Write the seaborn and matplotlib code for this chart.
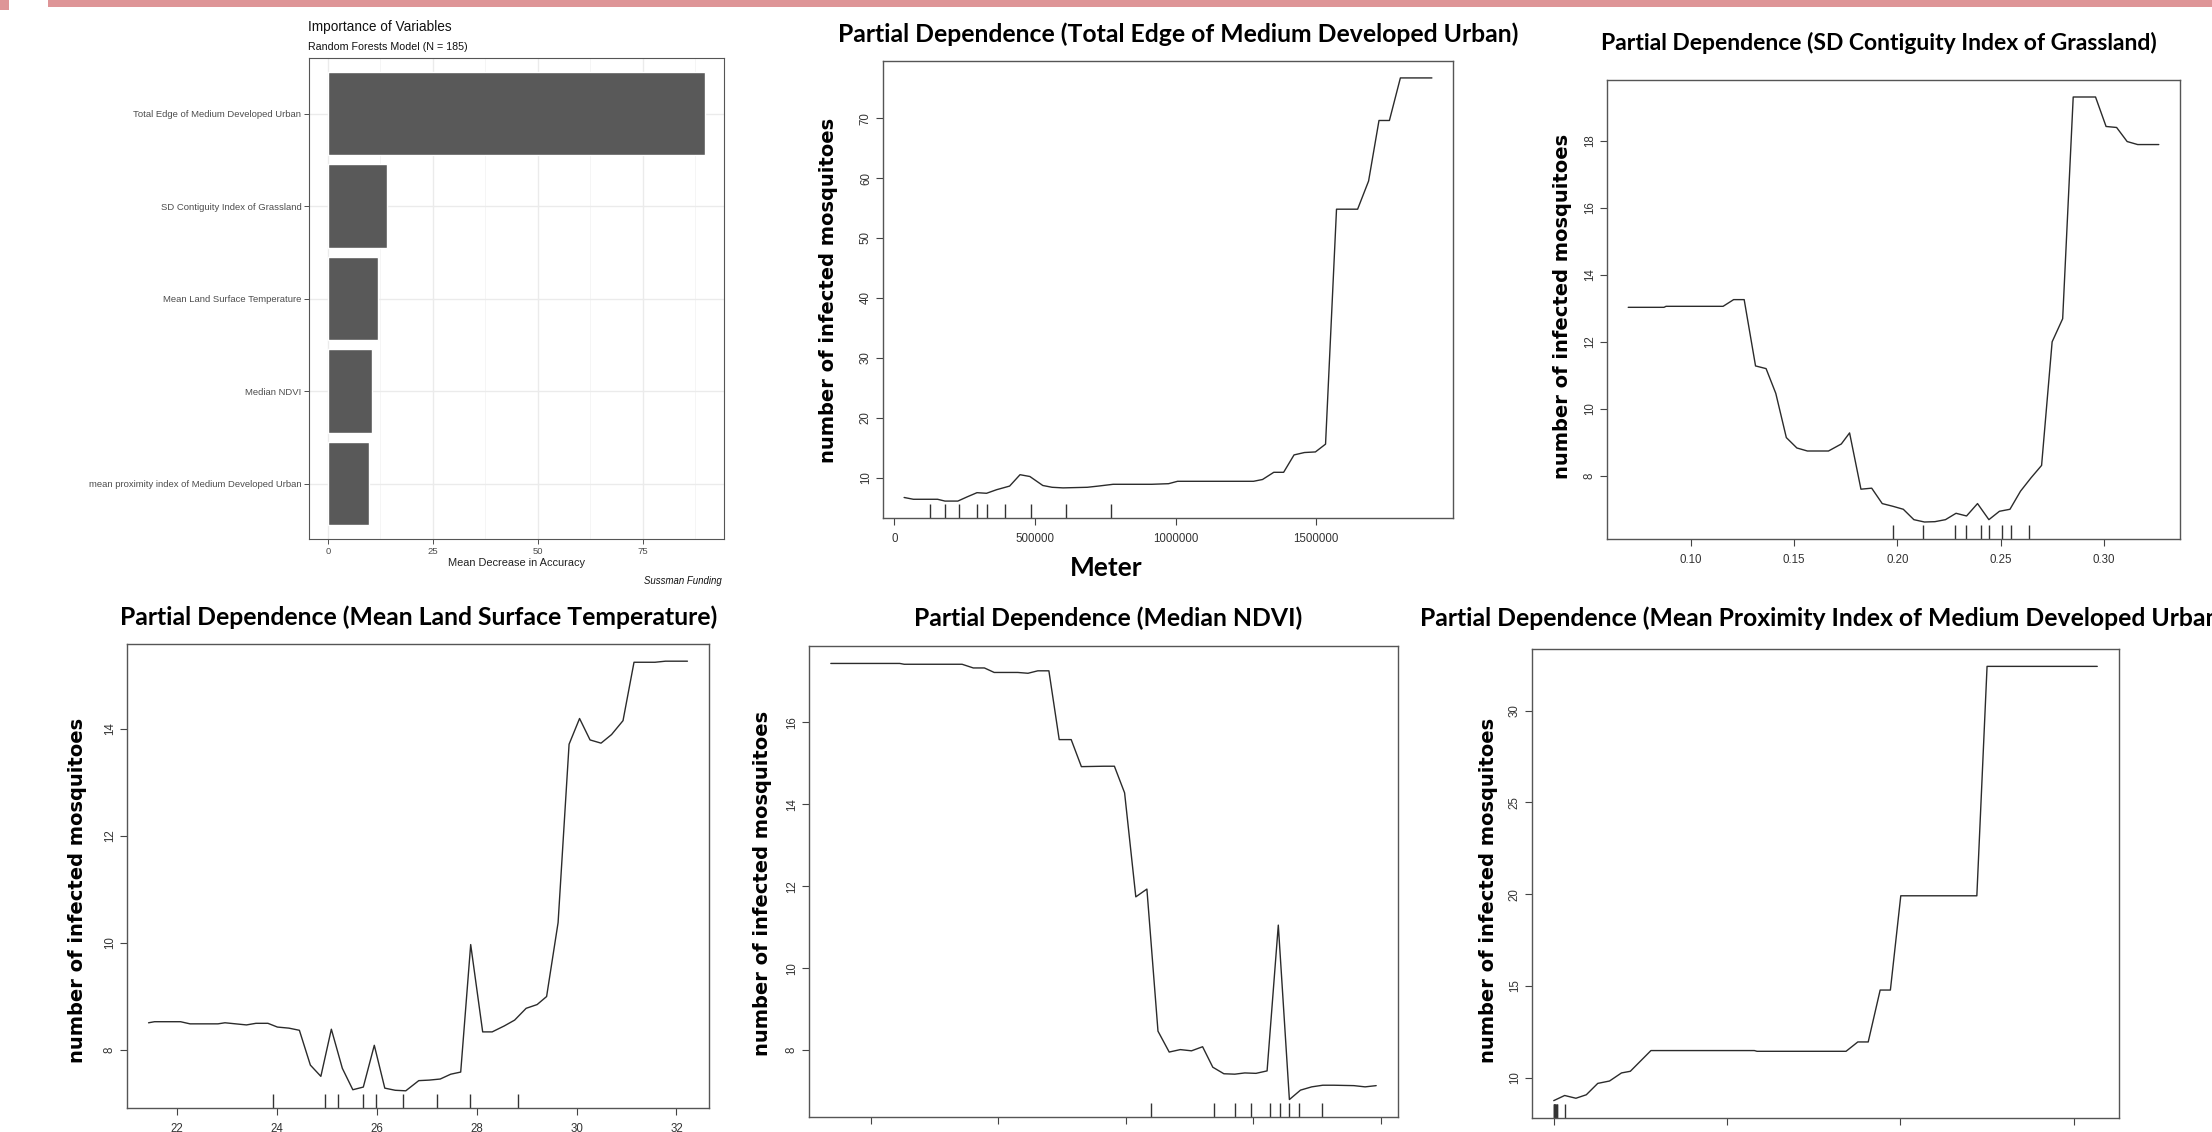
import numpy as np
import pandas as pd
import seaborn as sns
import matplotlib.pyplot as plt
from matplotlib.patches import Rectangle

# ---- variable importance (random forest) ----
imp_vars = ['Total Edge of Medium Developed Urban',
            'SD Contiguity Index of Grassland',
            'Mean Land Surface Temperature',
            'Median NDVI',
            'mean proximity index of Medium Developed Urban']
imp_vals = [89.9, 14.1, 12.0, 10.5, 9.7]

# ---- partial dependence: total edge of medium developed urban ----
edge_x = [35000, 68000, 154000, 180000, 226000, 259000, 294000, 328000, 364000, 410000,
          447000, 482000, 528000, 561000, 600000, 686000, 725000, 778000, 915000, 975000,
          1007000, 1277000, 1309000, 1349000, 1384000, 1421000, 1458000, 1497000, 1533000,
          1572000, 1647000, 1686000, 1723000, 1760000, 1799000, 1911000]
edge_y = [6.7, 6.4, 6.4, 6.1, 6.1, 6.8, 7.5, 7.4, 8.0, 8.6, 10.5, 10.2, 8.7, 8.4, 8.3,
          8.4, 8.6, 8.9, 8.9, 9.0, 9.4, 9.4, 9.7, 10.9, 10.9, 13.8, 14.2, 14.3, 15.6,
          54.8, 54.8, 59.5, 69.6, 69.6, 76.7, 76.7]
edge_rug = [127000, 180000, 230000, 294000, 328000, 394000, 485000, 609000, 771000]

# ---- partial dependence: SD contiguity index of grassland ----
grass_x = [0.0698, 0.0871, 0.0881, 0.1157, 0.1208, 0.1259, 0.1314, 0.1365, 0.1412, 0.1463,
           0.1514, 0.1565, 0.1667, 0.1729, 0.1769, 0.1824, 0.1876, 0.1927, 0.1978, 0.2029,
           0.2080, 0.2131, 0.2182, 0.2233, 0.2284, 0.2335, 0.2388, 0.2443, 0.2494, 0.2545,
           0.2596, 0.2647, 0.2698, 0.2749, 0.2800, 0.2851, 0.2959, 0.3010, 0.3061, 0.3112,
           0.3163, 0.3265]
grass_y = [13.03, 13.03, 13.06, 13.06, 13.26, 13.26, 11.28, 11.2, 10.46, 9.14, 8.83, 8.74,
           8.74, 8.95, 9.28, 7.6, 7.63, 7.17, 7.09, 7.0, 6.69, 6.62, 6.63, 6.69, 6.88, 6.8,
           7.17, 6.69, 6.94, 7.0, 7.54, 7.94, 8.31, 12.0, 12.69, 19.31, 19.31, 18.43, 18.4,
           17.98, 17.89, 17.89]
grass_rug = [0.1978, 0.2124, 0.2279, 0.2334, 0.2404, 0.2443, 0.2506, 0.2549, 0.2637]

# ---- partial dependence: mean land surface temperature ----
lst_x = [21.43, 21.55, 22.07, 22.26, 22.82, 22.96, 23.39, 23.58, 23.82, 24.01, 24.24, 24.45,
         24.67, 24.88, 25.09, 25.31, 25.52, 25.73, 25.95, 26.16, 26.37, 26.58, 26.84, 27.05,
         27.27, 27.48, 27.68, 27.88, 28.12, 28.31, 28.55, 28.76, 28.99, 29.21, 29.40, 29.63,
         29.85, 30.06, 30.27, 30.49, 30.70, 30.93, 31.15, 31.57, 31.78, 32.22]
lst_y = [8.51, 8.53, 8.53, 8.49, 8.49, 8.51, 8.47, 8.5, 8.5, 8.43, 8.41, 8.37, 7.72, 7.51,
         8.39, 7.66, 7.26, 7.31, 8.09, 7.29, 7.25, 7.24, 7.43, 7.44, 7.46, 7.55, 7.59, 9.97,
         8.34, 8.34, 8.45, 8.56, 8.78, 8.85, 9.0, 10.38, 13.71, 14.19, 13.79, 13.73, 13.89,
         14.15, 15.24, 15.24, 15.26, 15.26]
lst_rug = [23.93, 24.97, 25.22, 25.73, 25.99, 26.53, 27.20, 27.86, 28.83]

# ---- partial dependence: median NDVI ----
ndvi_x = [0.1686, 0.2227, 0.2262, 0.2716, 0.2804, 0.2891, 0.2968, 0.3153, 0.3233, 0.3310,
          0.3397, 0.3478, 0.3572, 0.3652, 0.3827, 0.3911, 0.3991, 0.4079, 0.4166, 0.4253,
          0.4341, 0.4428, 0.4516, 0.4603, 0.4683, 0.4770, 0.4856, 0.4934, 0.5022, 0.5109,
          0.5197, 0.5284, 0.5371, 0.5459, 0.5546, 0.5633, 0.5790, 0.5878, 0.5965]
ndvi_y = [17.44, 17.44, 17.42, 17.42, 17.33, 17.33, 17.22, 17.22, 17.2, 17.26, 17.26, 15.58,
          15.58, 14.92, 14.93, 14.93, 14.28, 11.74, 11.93, 8.46, 7.95, 8.01, 7.98, 8.08, 7.58,
          7.42, 7.41, 7.44, 7.43, 7.49, 11.05, 6.79, 7.02, 7.1, 7.14, 7.14, 7.13, 7.1, 7.13]
ndvi_rug = [0.4202, 0.4691, 0.4859, 0.4980, 0.5129, 0.5209, 0.5284, 0.5362, 0.5540]

# ---- partial dependence: mean proximity index of medium developed urban ----
prox_x = [0, 63, 128, 188, 254, 322, 391, 442, 561, 1158, 1173, 1687, 1755, 1815, 1884,
          1943, 2003, 2442, 2501, 3137]
prox_y = [8.74, 9.02, 8.87, 9.06, 9.68, 9.81, 10.25, 10.34, 11.47, 11.47, 11.43, 11.43,
          11.94, 11.94, 14.77, 14.77, 19.91, 19.91, 32.42, 32.42]
prox_rug = [0, 0, 4, 8, 8, 12, 16, 16, 63]

W, H = 2212, 1132

sns.set_theme(style='white')
plt.rcParams['font.family'] = ['Liberation Sans', 'DejaVu Sans']
TITLE_FONT = 'Lato'
YLAB_FONT = 'DejaVu Sans'

fig = plt.figure(figsize=(W / 100, H / 100), dpi=100)
fig.patch.set_facecolor('white')


def add_ax(x0, y0, x1, y1):
    return fig.add_axes([x0 / W, 1 - y1 / H, (x1 - x0) / W, (y1 - y0) / H])


def ftext(x, y, s, **kw):
    fig.text(x / W, 1 - y / H, s, **kw)


# slide header bar
fig.add_artist(Rectangle((48 / W, 1 - 7 / H), (W - 48) / W, 7 / H,
                         transform=fig.transFigure, color='#de9597', lw=0))
fig.add_artist(Rectangle((0, 1 - 10 / H), 9 / W, 10 / H,
                         transform=fig.transFigure, color='#de9597', lw=0))

# ---- importance panel (ggplot look) ----
ax1 = add_ax(309, 58, 724, 539)
df_imp = pd.DataFrame({'variable': imp_vars, 'importance': imp_vals})
sns.barplot(data=df_imp, y='variable', x='importance', orient='h', color='#595959',
            saturation=1, width=0.9, ax=ax1)
mx = max(imp_vals)
ax1.set_xlim(-0.05 * mx, 1.05 * mx)
ax1.set_ylim(4.6, -0.6)
ax1.set_xticks([0, 25, 50, 75])
ax1.set_xticks([12.5, 37.5, 62.5, 87.5], minor=True)
ax1.grid(True, which='major', color='#EBEBEB', lw=1.0)
ax1.grid(True, which='minor', axis='x', color='#F4F4F4', lw=0.6)
ax1.set_axisbelow(True)
ax1.tick_params(axis='both', which='major', direction='out', length=3.5, width=0.6,
                color='#333333', labelcolor='#4D4D4D', labelsize=6.8, pad=2,
                left=True, bottom=True)
ax1.tick_params(which='minor', length=0)
ax1.set_ylabel('')
ax1.set_xlabel('Mean Decrease in Accuracy', fontsize=7.9, color='#222222', labelpad=2)
for sp in ax1.spines.values():
    sp.set_color('#555555')
    sp.set_linewidth(0.8)
ftext(308, 27, 'Importance of Variables', fontsize=9.8, ha='left', va='center',
      color='#111111')
ftext(308, 47, 'Random Forests Model (N = 185)', fontsize=7.7, ha='left', va='center',
      color='#111111')
ftext(722, 581, 'Sussman Funding', fontsize=6.9, style='italic', ha='right',
      va='center', color='#111111')


# ---- partial dependence panels (base R look) ----
def pd_panel(box, x, y, rug, xticks, yticks, xfmt):
    ax = add_ax(*box)
    sns.lineplot(x=x, y=y, ax=ax, color='#2b2b2b', linewidth=1.0,
                 estimator=None, sort=False)
    sns.rugplot(x=rug, ax=ax, height=0.03, color='#333333', linewidth=1.0,
                expand_margins=False)
    xr = max(x) - min(x)
    yr = max(y) - min(y)
    ax.set_xlim(min(x) - 0.04 * xr, max(x) + 0.04 * xr)
    ax.set_ylim(min(y) - 0.04 * yr, max(y) + 0.04 * yr)
    ax.set_xticks(xticks, labels=[xfmt(t) for t in xticks])
    ax.set_yticks(yticks, labels=[str(t) for t in yticks])
    ax.tick_params(direction='out', length=5, width=0.8, color='#444444',
                   labelcolor='#333333', labelsize=8.3, left=True, bottom=True)
    ax.tick_params(axis='x', pad=6)
    ax.tick_params(axis='y', pad=3)
    for lab in ax.get_yticklabels():
        lab.set_rotation(90)
        lab.set_va('center')
    for sp in ax.spines.values():
        sp.set_color('#555555')
        sp.set_linewidth(1.0)
    ax.set_xlabel('')
    ax.set_ylabel('')
    return ax


pd_panel((883, 61, 1453, 518), edge_x, edge_y, edge_rug,
         [0, 500000, 1000000, 1500000], [10, 20, 30, 40, 50, 60, 70], lambda t: str(t))
pd_panel((1607, 80, 2180, 539), grass_x, grass_y, grass_rug,
         [0.10, 0.15, 0.20, 0.25, 0.30], [8, 10, 12, 14, 16, 18], lambda t: f'{t:.2f}')
pd_panel((127, 644, 709, 1108), lst_x, lst_y, lst_rug,
         [22, 24, 26, 28, 30, 32], [8, 10, 12, 14], lambda t: str(t))
# the x tick labels of the two lower-right panels fall below the slide edge
pd_panel((809, 646, 1398, 1117), ndvi_x, ndvi_y, ndvi_rug,
         [0.2, 0.3, 0.4, 0.5, 0.6], [8, 10, 12, 14, 16], lambda t: '')
pd_panel((1532, 649, 2119, 1118), prox_x, prox_y, prox_rug,
         [0, 1000, 2000, 3000], [10, 15, 20, 25, 30], lambda t: '')

# panel titles and axis labels
tkw = dict(family=TITLE_FONT, weight='bold', color='black', va='center')
ftext(1178, 34, 'Partial Dependence (Total Edge of Medium Developed Urban)',
      ha='center', fontsize=17.8, **tkw)
ftext(1879, 43, 'Partial Dependence (SD Contiguity Index of Grassland)',
      ha='center', fontsize=16.5, **tkw)
ftext(419, 617, 'Partial Dependence (Mean Land Surface Temperature)',
      ha='center', fontsize=17.8, **tkw)
ftext(1108, 618, 'Partial Dependence (Median NDVI)', ha='center', fontsize=17.8, **tkw)
ftext(1420, 618, 'Partial Dependence (Mean Proximity Index of Medium Developed Urban)',
      ha='left', fontsize=17.8, **tkw)
ftext(1106, 568, 'Meter', fontsize=19, family=TITLE_FONT, weight='bold', ha='center',
      va='center', color='black')

ykw = dict(fontsize=14, family=YLAB_FONT, weight='bold', rotation=90,
           ha='center', va='center', color='black')
ylab = 'number of infected mosquitoes'
ftext(829, 290, ylab, **ykw)
ftext(1563, 306, ylab, **ykw)
ftext(78, 890, ylab, **ykw)
ftext(763, 883, ylab, **ykw)
ftext(1489, 890, ylab, **ykw)

fig.savefig('out.png', dpi=100)
